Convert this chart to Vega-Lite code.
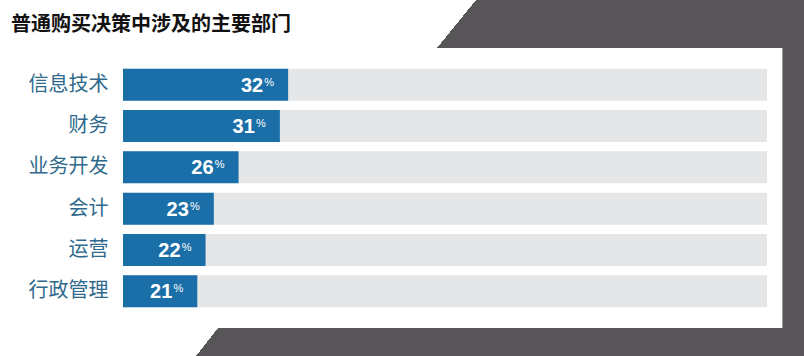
{
  "$schema": "https://vega.github.io/schema/vega-lite/v6.json",
  "background": "#ffffff",
  "padding": 0,
  "spacing": 0,
  "config": {"view": {"stroke": null}, "concat": {"spacing": 0}},
  "datasets": {
    "depts": [
      {"dept": "信息技术", "value": 32},
      {"dept": "财务", "value": 31},
      {"dept": "业务开发", "value": 26},
      {"dept": "会计", "value": 23},
      {"dept": "运营", "value": 22},
      {"dept": "行政管理", "value": 21}
    ],
    "one": [{"k": 1}]
  },
  "vconcat": [
    {
      "width": 804,
      "height": 48,
      "title": {
        "text": "普通购买决策中涉及的主要部门",
        "anchor": "start",
        "frame": "group",
        "orient": "top",
        "baseline": "middle",
        "offset": -45,
        "dx": 11,
        "font": "Noto Sans CJK SC",
        "fontSize": 20,
        "fontWeight": "bold",
        "color": "#111111",
        "zindex": 1
      },
      "data": {"name": "one"},
      "mark": {
        "type": "rect",
        "fill": {
          "gradient": "linear",
          "x1": 0, "y1": 0, "x2": 1, "y2": 0.0485,
          "stops": [
            {"offset": 0, "color": "#ffffff"},
            {"offset": 0.5906, "color": "#ffffff"},
            {"offset": 0.5907, "color": "#575557"},
            {"offset": 1, "color": "#575557"}
          ]
        }
      },
      "encoding": {}
    },
    {
      "width": 804,
      "height": 280,
      "layer": [
        {
          "data": {"name": "one"},
          "mark": {
            "type": "rect",
            "fill": {
              "gradient": "linear",
              "x1": 0, "y1": 0, "x2": 1, "y2": 0,
              "stops": [
                {"offset": 0, "color": "#ffffff"},
                {"offset": 0.9732, "color": "#ffffff"},
                {"offset": 0.9733, "color": "#575557"},
                {"offset": 1, "color": "#575557"}
              ]
            }
          },
          "encoding": {}
        },
        {
          "data": {"name": "depts"},
          "encoding": {
            "y": {
              "field": "dept",
              "type": "nominal",
              "sort": null,
              "scale": {"paddingInner": 0.225, "paddingOuter": 0.5},
              "axis": {
                "title": null,
                "orient": "left",
                "offset": -108,
                "domain": false,
                "ticks": false,
                "labelPadding": 0,
                "labelFont": "Noto Sans CJK SC",
                "labelFontSize": 20,
                "labelColor": "#2f6a8d",
                "zindex": 2
              }
            }
          },
          "layer": [
            {
              "mark": {"type": "bar", "color": "#e5e6e7"},
              "encoding": {
                "x": {
                  "datum": 100,
                  "type": "quantitative",
                  "scale": {"domain": [12, 90], "range": [123, 767], "clamp": true, "nice": false, "zero": false},
                  "axis": null
                }
              }
            },
            {
              "mark": {"type": "bar", "color": "#1b6fa8"},
              "encoding": {
                "x": {"field": "value", "type": "quantitative"}
              }
            },
            {
              "mark": {
                "type": "text",
                "align": "right",
                "baseline": "middle",
                "dx": -25,
                "dy": 1,
                "font": "Liberation Sans",
                "fontSize": 20,
                "fontWeight": "bold",
                "color": "#ffffff"
              },
              "encoding": {
                "x": {"field": "value", "type": "quantitative"},
                "text": {"field": "value", "type": "quantitative"}
              }
            },
            {
              "mark": {
                "type": "text",
                "align": "right",
                "baseline": "middle",
                "dx": -14,
                "dy": -2,
                "font": "Liberation Sans",
                "fontSize": 11,
                "color": "#ffffff"
              },
              "encoding": {
                "x": {"field": "value", "type": "quantitative"},
                "text": {"value": "%"}
              }
            }
          ]
        }
      ]
    },
    {
      "width": 804,
      "height": 28,
      "data": {"name": "one"},
      "mark": {
        "type": "rect",
        "fill": {
          "gradient": "linear",
          "x1": 0, "y1": 0, "x2": 1, "y2": 0.0273,
          "stops": [
            {"offset": 0, "color": "#ffffff"},
            {"offset": 0.2709, "color": "#ffffff"},
            {"offset": 0.271, "color": "#575557"},
            {"offset": 1, "color": "#575557"}
          ]
        }
      },
      "encoding": {}
    }
  ]
}
